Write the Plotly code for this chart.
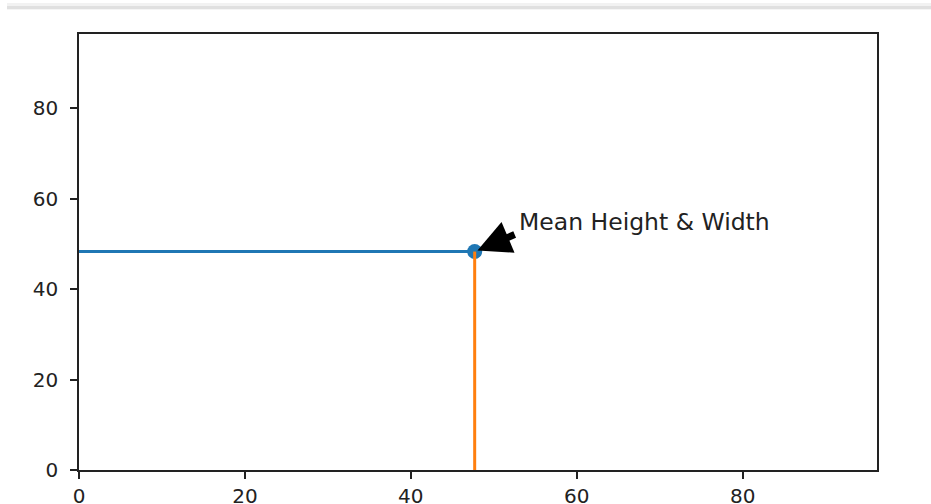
import plotly.graph_objects as go

# Data
mean_width = 47.7
mean_height = 48.3
x_limit = 96.2
y_limit = 96.4
x_ticks = [0, 20, 40, 60, 80]
y_ticks = [0, 20, 40, 60, 80]
label_text = "Mean Height & Width"

blue = "#1f77b4"
orange = "#ff7f0e"
font_fam = "DejaVu Sans"
ink = "#222222"

fig = go.Figure()
# horizontal line from y-axis to mean point
fig.add_trace(go.Scatter(x=[0, mean_width], y=[mean_height, mean_height], mode="lines",
                         line=dict(color=blue, width=3), showlegend=False, hoverinfo="skip"))
# mean point
fig.add_trace(go.Scatter(x=[mean_width], y=[mean_height], mode="markers",
                         marker=dict(color=blue, size=15, line=dict(width=0)), showlegend=False))
# vertical line from x-axis to mean point
fig.add_trace(go.Scatter(x=[mean_width, mean_width], y=[0, mean_height], mode="lines",
                         line=dict(color=orange, width=3), showlegend=False, hoverinfo="skip"))

# arrow
fig.add_annotation(x=mean_width, y=mean_height, ax=mean_width + 5.0, ay=mean_height + 3.9,
                   xref="x", yref="y", axref="x", ayref="y", text="", showarrow=True,
                   arrowhead=2, arrowsize=0.95, arrowwidth=7, arrowcolor="black", standoff=3)
# label
fig.add_annotation(x=mean_width + 5.1, y=mean_height + 3.1, xref="x", yref="y", text=label_text,
                   showarrow=False, xanchor="left", yanchor="bottom",
                   font=dict(family=font_fam, size=23.5, color=ink))

# notebook cell border band at the top
fig.add_shape(type="rect", xref="paper", yref="paper",
              x0=(7 - 79) / 798, x1=(931 - 79) / 798,
              y0=1 + (34 - 9.3) / 436, y1=1 + (34 - 3) / 436,
              fillcolor="#f2f2f2", line=dict(width=0), layer="above")
fig.add_shape(type="rect", xref="paper", yref="paper",
              x0=(7 - 79) / 798, x1=(931 - 79) / 798,
              y0=1 + (34 - 9.3) / 436, y1=1 + (34 - 6) / 436,
              fillcolor="#e0e0e0", line=dict(width=0), layer="above")

axis_common = dict(showgrid=False, zeroline=False, showline=True, linecolor=ink, linewidth=1.5,
                   mirror=True, ticks="outside", ticklen=7, tickwidth=1.5, tickcolor=ink,
                   automargin=False,
                   tickfont=dict(family=font_fam, size=20, color=ink))
fig.update_xaxes(range=[0, x_limit], tickvals=x_ticks, ticktext=[str(v) for v in x_ticks],
                 ticklabelstandoff=0, **axis_common)
fig.update_yaxes(range=[0, y_limit], tickvals=y_ticks, ticktext=[str(v) for v in y_ticks],
                 ticklabelstandoff=8, **axis_common)

fig.update_layout(width=931, height=504, margin=dict(l=79, r=54, t=34, b=34),
                  plot_bgcolor="white", paper_bgcolor="white", showlegend=False)

fig.write_html("out.html")
